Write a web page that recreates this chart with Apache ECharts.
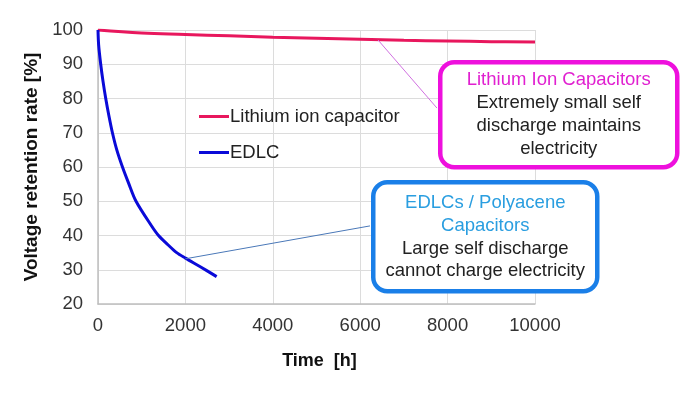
<!DOCTYPE html>
<html><head><meta charset="utf-8">
<script src="https://cdn.jsdelivr.net/npm/echarts@6/dist/echarts.min.js"></script>
<style>html,body{margin:0;padding:0;background:#fff}#c{width:698px;height:394px}</style>
</head><body><div id="c"></div>
<script>
const seriesNames = ["Lithium ion capacitor", "EDLC"];
const licData = [[0,100],[1000,99.1],[2000,98.7],[3000,98.3],[4000,97.9],[5000,97.6],[6000,97.3],[7000,97.0],[8000,96.8],[9000,96.6],[10000,96.5]];
const edlcData = [[0,100],[15,95.6],[62,90],[115,85],[177,80],[246,75.2],[330,70],[430,65],[560,60],[700,55.3],[870,50],[1215,43],[1385,40],[1600,37.3],[1800,35],[2000,33.4],[2350,30.8],[2715,28]];
const licPointer = [[6407,97.1],[7757,77.2]];
const edlcPointer = [[2000,33.2],[6224,42.8]];
const licNote = ["Lithium Ion Capacitors","Extremely small self","discharge maintains","electricity"];
const edlcNote = ["EDLCs / Polyacene","Capacitors","Large self discharge","cannot charge electricity"];
const xTicks = {min:0,max:10000,interval:2000};
const yTicks = {min:20,max:100,interval:10};

const FONT = "Liberation Sans, Arial, sans-serif";
const chart = echarts.init(document.getElementById('c'));
function noteGraphic(lines, x, y, w, h, border, titleColor, titleLines, firstY, step){
  const children = [{type:'rect',z:100,shape:{x:0,y:0,width:w,height:h,r:14},style:{fill:'#ffffff',stroke:border,lineWidth:4.5}}];
  lines.forEach((t,i)=>{
    children.push({type:'text',z:101,style:{text:t,x:w/2,y:firstY+i*step,align:'center',verticalAlign:'middle',font:'18.5px '+FONT,fill:i<titleLines?titleColor:'#222'}});
  });
  return {type:'group',left:x,top:y,z:100,children};
}
chart.setOption({
  animation:false,
  grid:{left:98,right:163,top:30,bottom:90},
  legend:{orient:'vertical',left:194,top:102,itemGap:17,itemWidth:30,itemHeight:3,
    icon:'rect',textStyle:{fontSize:18.5,color:'#222',fontFamily:FONT,padding:[0,0,0,-4]},data:seriesNames},
  xAxis:{type:'value',min:xTicks.min,max:xTicks.max,interval:xTicks.interval,
    name:'Time  [h]',nameLocation:'middle',nameGap:48,
    nameTextStyle:{fontSize:18,fontWeight:'bold',color:'#111',fontFamily:FONT,verticalAlign:'top',padding:[0,0,0,6]},
    axisLine:{lineStyle:{color:'#bfbfbf',width:1.5}},axisTick:{show:false},
    axisLabel:{fontSize:18.5,color:'#333',fontFamily:FONT,margin:12,formatter:v=>String(v)},
    splitLine:{lineStyle:{color:'#dcdcdc',width:1}}},
  yAxis:{type:'value',min:yTicks.min,max:yTicks.max,interval:yTicks.interval,
    name:'Voltage retention rate [%]',nameLocation:'middle',nameGap:50,
    nameTextStyle:{fontSize:19,fontWeight:'bold',color:'#111',fontFamily:FONT},
    axisLine:{show:true,lineStyle:{color:'#bfbfbf',width:1.5}},axisTick:{show:false},
    axisLabel:{fontSize:18.5,color:'#333',fontFamily:FONT,margin:15},
    splitLine:{lineStyle:{color:'#dcdcdc',width:1}}},
  series:[
    {name:seriesNames[0],type:'line',data:licData,smooth:0.4,symbol:'none',
     lineStyle:{color:'#e8175d',width:3},itemStyle:{color:'#e8175d'},
     markLine:{silent:true,symbol:'none',label:{show:false},lineStyle:{color:'#d070e0',width:1,type:'solid'},
       data:[[{coord:licPointer[0]},{coord:licPointer[1]}]]}},
    {name:seriesNames[1],type:'line',data:edlcData,smooth:0.3,symbol:'none',
     lineStyle:{color:'#0a0ad8',width:3},itemStyle:{color:'#0a0ad8'},
     markLine:{silent:true,symbol:'none',label:{show:false},lineStyle:{color:'#4a78b8',width:1,type:'solid'},
       data:[[{coord:edlcPointer[0]},{coord:edlcPointer[1]}]]}}
  ],
  graphic:[
    noteGraphic(licNote,438,60,237,105,'#ee10dd','#e020d0',1,18,23),
    noteGraphic(edlcNote,371,180,224,109,'#1a7fe8','#2a9ee0',2,21,22.7)
  ]
});
</script></body></html>
